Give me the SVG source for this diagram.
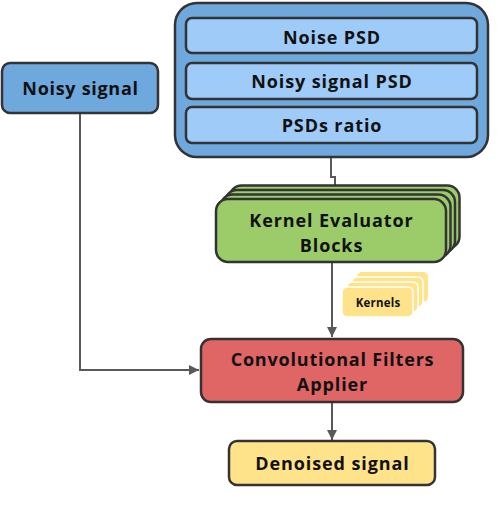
<svg xmlns="http://www.w3.org/2000/svg" width="502" height="516" viewBox="0 0 502 516">
<style>
text{font-family:"Open Sans","DejaVu Sans",sans-serif;font-weight:bold;fill:#111;text-anchor:middle}
.t{font-size:18px;letter-spacing:0.9px}
.bx{stroke:#333;stroke-width:2.5}
.ln{fill:none;stroke:#595959;stroke-width:2}
</style>
<defs>
<marker id="ah" viewBox="0 0 10 10" refX="10" refY="5" markerWidth="5" markerHeight="5" orient="auto" markerUnits="strokeWidth">
<path d="M0,0 L10,5 L0,10 z" fill="#595959"/>
</marker>
</defs>
<rect width="502" height="516" fill="#fff"/>
<g id="connectors">
<path class="ln" d="M331,157 V177 H335 V195" marker-end="url(#ah)"/>
<path class="ln" d="M80,113 V370 H199" marker-end="url(#ah)"/>
<path class="ln" d="M332,262 V337" marker-end="url(#ah)"/>
<path class="ln" d="M332,402 V440" marker-end="url(#ah)"/>
</g>
<g id="psd-group">
<rect class="bx" x="175" y="3" width="313" height="154" rx="22" fill="#6fa8dc"/>
<g id="noise-psd"><rect class="bx" x="186" y="18" width="291" height="35" rx="6" fill="#9fcbf8"/><text class="t" x="332" y="43.5">Noise PSD</text></g>
<g id="noisy-psd"><rect class="bx" x="186" y="63" width="291" height="36" rx="6" fill="#9fcbf8"/><text class="t" x="332" y="88">Noisy signal PSD</text></g>
<g id="ratio"><rect class="bx" x="186" y="107" width="291" height="36" rx="6" fill="#9fcbf8"/><text class="t" x="332" y="132">PSDs ratio</text></g>
</g>
<g id="noisy-signal">
<rect class="bx" x="2" y="63" width="156" height="50" rx="8" fill="#6fa8dc"/>
<text class="t" x="80.5" y="94.5" style="letter-spacing:0.7px">Noisy signal</text>
</g>
<g id="kernel-evaluator">
<rect class="bx" x="229.5" y="185.5" width="230" height="63" rx="12" fill="#9ccc6a"/>
<rect class="bx" x="225" y="190" width="230" height="63" rx="12" fill="#9ccc6a"/>
<rect class="bx" x="220.5" y="194.5" width="230" height="63" rx="12" fill="#9ccc6a"/>
<rect class="bx" x="216" y="199" width="230" height="63" rx="12" fill="#9ccc6a"/>
<text class="t" x="331.5" y="227">Kernel Evaluator</text>
<text class="t" x="331.5" y="252">Blocks</text>
</g>
<g id="kernels" fill="#ffe38a">
<rect x="357" y="272" width="71" height="30" rx="5"/>
<rect x="352" y="277" width="71" height="30" rx="5" stroke="#fff" stroke-width="1.5"/>
<rect x="347" y="282" width="71" height="30" rx="5" stroke="#fff" stroke-width="1.5"/>
<rect x="342" y="287" width="71" height="30" rx="5" stroke="#fff" stroke-width="1.5"/>
<text x="378" y="307" font-size="11.5" style="letter-spacing:0.2px">Kernels</text>
</g>
<g id="conv">
<rect class="bx" x="201" y="339" width="262" height="63" rx="10" fill="#e06666"/>
<text class="t" x="332.5" y="366" style="letter-spacing:0.8px">Convolutional Filters</text>
<text class="t" x="332.5" y="391">Applier</text>
</g>
<g id="denoised">
<rect class="bx" x="229" y="441" width="206" height="44" rx="8" fill="#ffe38a"/>
<text class="t" x="332.5" y="470">Denoised signal</text>
</g>
</svg>
